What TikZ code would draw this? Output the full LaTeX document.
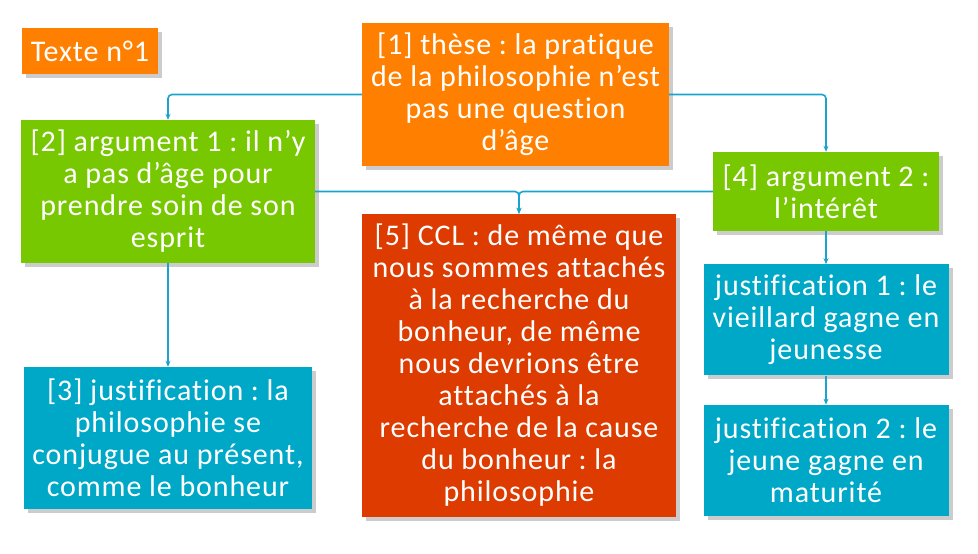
\documentclass[tikz,border=0pt]{standalone}
\usepackage{fontspec}
\setmainfont{Carlito}[LetterSpace=3,Ligatures={NoCommon,NoContextual}]
\frenchspacing
\usetikzlibrary{arrows.meta,positioning,shadows}
\definecolor{thorange}{HTML}{FF8000}
\definecolor{thgreen}{HTML}{77C800}
\definecolor{thblue}{HTML}{00A8C8}
\definecolor{thred}{HTML}{DD3B00}
\definecolor{thline}{HTML}{1AA3CC}
\tikzset{
  blk/.style={rectangle,inner sep=2pt,align=center,text=white,
    font=\fontsize{30}{32}\selectfont,
    drop shadow={shadow xshift=4pt,shadow yshift=-4pt,fill=black!25,opacity=0.8}},
  thbox/.style={blk,fill=thorange},
  argbox/.style={blk,fill=thgreen},
  jusbox/.style={blk,fill=thblue},
  cclbox/.style={blk,fill=thred},
  conn/.style={-{Stealth[length=6pt,width=5pt]},thline,line width=1.6pt,rounded corners=4pt}
}
\begin{document}
\begin{tikzpicture}[x=1pt,y=-1pt]
  \useasboundingbox (0,0) rectangle (978,554);
  \node[thbox, minimum width=136pt, minimum height=46pt] (titre) at (90,51) {Texte n°1};
  \node[thbox, minimum width=307pt, minimum height=143pt] (these) at (515.5,94.5)
    {[1] thèse : la pratique\\de la philosophie n’est\\pas une question\\d’âge};
  \node[argbox, minimum width=294pt, minimum height=143pt] (arg1) at (168,191.5)
    {[2] argument 1 : il n’y\\a pas d’âge pour\\prendre soin de son\\esprit};
  \node[argbox, minimum width=226pt, minimum height=79pt] (arg2) at (826,191.5)
    {[4] argument 2 :\\l’intérêt};
  \node[cclbox, minimum width=314pt, minimum height=303pt] (ccl) at (519,365.5)
    {[5] CCL : de même que\\nous sommes attachés\\à la recherche du\\bonheur, de même\\nous devrions être\\attachés à la\\recherche de la cause\\du bonheur : la\\philosophie};
  \node[jusbox, minimum width=288pt, minimum height=142pt] (just) at (168,438)
    {[3] justification : la\\philosophie se\\conjugue au présent,\\comme le bonheur};
  \node[jusbox, minimum width=245pt, minimum height=111pt, below=33pt of arg2] (just1)
    {justification 1 : le\\vieillard gagne en\\jeunesse};
  \node[jusbox, minimum width=245pt, minimum height=111pt, below=29pt of just1] (just2)
    {justification 2 : le\\jeune gagne en\\maturité};

  \draw[conn] (these.west) -| (arg1.north);
  \draw[conn] (these.east) -| (arg2.north);
  \draw[conn] (arg1.east) -| (ccl.north);
  \draw[conn] (arg2.west) -| (ccl.north);
  \draw[conn] (arg1.south) -- (just.north);
  \draw[conn] (arg2.south) -- (just1.north);
  \draw[conn] (just1.south) -- (just2.north);
\end{tikzpicture}
\end{document}
